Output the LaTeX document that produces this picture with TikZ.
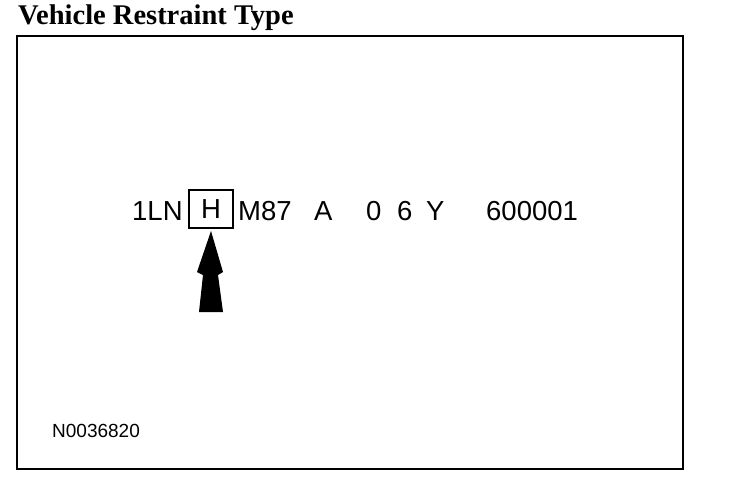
\documentclass[tikz,border=0pt]{standalone}
\usepackage{fontspec}
\setmainfont{Liberation Sans}
\newfontfamily\titlefont{Liberation Serif}
\usetikzlibrary{positioning}

\begin{document}
\begin{tikzpicture}[x=1pt,y=-1pt,
  vin/.style={anchor=base west,inner sep=0pt,font=\fontsize{27.5}{27.5}\selectfont}]
\useasboundingbox (0,0) rectangle (736,484);
% title and frame
\node[anchor=base west,inner sep=0pt,font=\titlefont\bfseries\fontsize{28.5}{28.5}\selectfont] (title) at (18,25) {Vehicle Restraint Type};
\draw[line width=2.5pt] (17,36) rectangle (683,469);
% the VIN line
\node[vin] (wmi) at (132,220) {1LN};
\node[draw,line width=2pt,minimum width=44pt,minimum height=38pt,inner sep=0pt,text height=19.5pt,text depth=0pt,font=\fontsize{27.5}{27.5}\selectfont] (restraint) at (211,209) {H};
\node[vin] (line) at (238,220) {M87};
\node[vin] (body) at (314,220) {A};
\node[vin] (engine) at (366,220) {0};
\node[vin] (check) at (397,220) {6};
\node[vin] (year) at (426,220) {Y};
\node[vin] (serial) at (486,220) {600001};
% arrow
\coordinate (tip) at (restraint.south |- 0,231);
\fill (tip) -- ++(-14,41) -- ++(6,3) -- ++(-4,37) -- ++(24,0) -- ++(-5,-37) -- ++(5,-3) -- cycle;
\node[anchor=base west,inner sep=0pt,font=\fontsize{19}{19}\selectfont] (fig) at (52,437) {N0036820};
\end{tikzpicture}
\end{document}
